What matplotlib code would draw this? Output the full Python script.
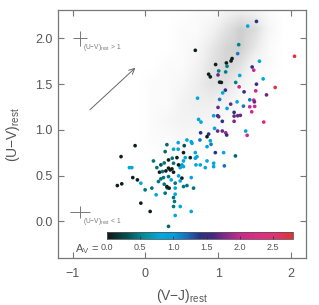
import numpy as np
import matplotlib
matplotlib.use('Agg')
import matplotlib.pyplot as plt
from matplotlib.colors import LinearSegmentedColormap, Normalize
from matplotlib.cm import ScalarMappable

plt.rcParams['font.family'] = ['Liberation Sans', 'DejaVu Sans']
plt.rcParams['mathtext.fontset'] = 'custom'
plt.rcParams['mathtext.rm'] = 'Liberation Sans'
plt.rcParams['mathtext.it'] = 'Liberation Sans:italic'

GRAY = '#555555'

# colour-coded galaxies: (V-J)rest, (U-V)rest, A_V
vj = [1.405, 1.525, 1.281, 1.267, 0.685, 1.190, 1.176, 1.112, 0.964, 1.121,
      1.566, 1.466, 1.488, 2.048, 1.006, 1.102, 0.868, 0.891, 0.997, 1.295,
      1.617, 1.019, 1.043, 1.240, 1.525, 1.287, 1.782, 1.098, 1.061, 1.355,
      1.515, 1.663, 0.716, 1.019, 1.433, 1.488, 1.497, 1.259, 1.346, 1.171,
      1.121, 0.997, 1.433, 1.501, 1.460, 1.218, 0.937, 0.992, 1.006, 1.218,
      1.267, 1.304, 1.056, 1.218, 1.625, 0.730, 0.763, 0.950, 0.992, 1.056,
      1.102, 1.116, 1.377, 1.397, 0.758, 0.868, 0.846, 0.891, 0.749, 0.570,
      0.629, 0.639, 0.450, 0.295, 0.533, 0.846, 0.901, 0.386, 0.450, -0.142,
      1.236, 0.960, 1.074, 1.084, 0.271, 0.523, 0.685,
      -0.335, -0.220, -0.187, 0.110, 0.157, 0.212, 0.258, 0.317, 0.193, 0.234,
      0.281, -0.174, -0.110, -0.063, -0.386, -0.325, 0.179, 0.212, 0.248, 0.258,
      0.299, 0.088, -0.004, 0.147, -0.063, 0.065, 0.317, 0.433, 0.368, 0.523,
      0.547, 0.616, 0.685, 0.708, 0.846, 0.937, 0.937, 0.753, 0.694, 0.822,
      0.501, 0.478, 0.523, 0.455, 0.386, 0.340, 0.364, 0.317, 0.386, 0.317,
      0.354, 0.455, 0.501, 0.478, 0.409, 0.523, 0.570, 0.629, 0.661, 0.295,
      0.326, 0.409, 0.409, 0.271, 0.386, 0.399, 0.386, 0.478, 0.629, 0.409]
uv = [2.135, 2.186, 1.932, 1.834, 1.870, 1.780, 1.754, 1.732, 1.715, 1.696,
      1.751, 1.688, 1.653, 1.805, 1.645, 1.634, 1.609, 1.580, 1.601, 1.595,
      1.558, 1.522, 1.519, 1.519, 1.500, 1.471, 1.464, 1.435, 1.405, 1.416,
      1.427, 1.383, 1.347, 1.333, 1.329, 1.326, 1.307, 1.307, 1.260, 1.282,
      1.235, 1.246, 1.253, 1.257, 1.198, 1.192, 1.155, 1.155, 1.144, 1.151,
      1.155, 1.159, 1.094, 1.094, 1.086, 1.115, 1.086, 1.017, 0.988, 0.988,
      0.969, 0.944, 0.988, 0.941, 0.969, 0.955, 0.926, 0.882, 0.890, 0.890,
      0.871, 0.854, 0.861, 0.839, 0.828, 0.817, 0.843, 0.789, 0.789, 0.828,
      0.716, 0.752, 0.752, 0.607, 0.763, 0.752, 0.752,
      0.708, 0.588, 0.588, 0.661, 0.588, 0.618, 0.639, 0.672, 0.538, 0.545,
      0.552, 0.479, 0.454, 0.418, 0.392, 0.411, 0.436, 0.465, 0.479, 0.407,
      0.367, 0.364, 0.345, 0.291, 0.200, 0.109, -0.054, 0.697, 0.691, 0.661,
      0.697, 0.697, 0.691, 0.708, 0.661, 0.636, 0.599, 0.618, 0.618, 0.588,
      0.618, 0.588, 0.599, 0.618, 0.636, 0.563, 0.574, 0.582, 0.538, 0.490,
      0.454, 0.498, 0.473, 0.443, 0.418, 0.381, 0.392, 0.479, 0.364, 0.381,
      0.364, 0.364, 0.298, 0.309, 0.261, 0.218, 0.163, 0.163, 0.109, 0.065]
av = [0.85, 1.40, 0.50, 1.15, 0.05, 0.05, 0.05, 0.05, 0.05, 0.50,
      0.85, 1.40, 2.05, 2.75, 0.50, 0.50, 0.05, 0.05, 1.70, 0.85,
      0.85, 0.05, 0.05, 0.50, 1.60, 2.05, 2.70, 1.40, 0.85, 1.45,
      2.05, 1.70, 0.85, 1.15, 1.15, 2.05, 1.70, 0.85, 1.15, 1.70,
      0.85, 1.70, 2.05, 2.05, 2.05, 1.40, 0.85, 1.40, 1.70, 1.70,
      1.70, 1.70, 1.40, 1.75, 2.20, 0.85, 0.85, 0.85, 1.70, 1.70,
      1.90, 1.40, 0.85, 2.05, 1.40, 1.40, 0.05, 0.85, 1.15, 0.85,
      0.85, 0.85, 0.85, 0.40, 0.30, 0.85, 1.15, 0.85, 0.85, 0.05,
      0.40, 1.40, 0.85, 1.20, 0.40, 0.05, 0.85,
      0.05, 0.85, 0.85, 0.45, 0.45, 0.30, 0.45, 0.05, 0.05, 0.45,
      0.05, 0.05, 0.05, 0.80, 0.05, 0.05, 0.45, 0.45, 0.45, 0.45,
      0.45, 0.45, 0.45, 0.85, 0.05, 0.05, 0.40, 0.05, 0.45, 0.85,
      0.85, 0.05, 0.85, 0.85, 0.85, 0.85, 0.85, 0.85, 0.85, 0.85,
      0.85, 0.85, 0.85, 0.05, 0.45, 0.05, 0.05, 0.05, 0.05, 0.45,
      0.85, 0.85, 0.05, 0.85, 0.45, 0.45, 0.45, 0.85, 0.45, 0.05,
      0.05, 0.85, 0.85, 0.45, 0.45, 0.45, 0.45, 0.85, 0.85, 0.85]

# background sample, read as a coarse density map (rows top to bottom)
cloud_x = [-0.1, 0.1, 0.3, 0.5, 0.7, 0.9, 1.1, 1.3, 1.5, 1.7, 1.9]
cloud_y = [2.3, 2.1, 1.9, 1.7, 1.5, 1.3, 1.1, 0.9, 0.7]
cloud = [[0, 0, 0, 0, 1, 1, 3, 4, 3, 1, 0],
         [0, 0, 0, 1, 1, 3, 6, 9, 7, 2, 0],
         [0, 0, 0, 1, 2, 5, 8, 9, 5, 1, 0],
         [0, 0, 1, 1, 3, 6, 8, 6, 2, 1, 0],
         [0, 1, 1, 2, 4, 6, 6, 3, 1, 0, 0],
         [0, 1, 1, 3, 4, 4, 3, 1, 0, 0, 0],
         [0, 1, 2, 3, 3, 2, 1, 0, 0, 0, 0],
         [0, 1, 1, 2, 1, 1, 0, 0, 0, 0, 0],
         [0, 0, 1, 1, 0, 0, 0, 0, 0, 0, 0]]

# A_V colour scale
av_nodes = [0.0, 0.3, 0.55, 0.8, 1.0, 1.2, 1.4, 1.6, 1.8, 2.0, 2.3, 2.55, 2.8]
node_colors = ['#141414', '#005050', '#008c9c', '#00a8dc', '#009ee0', '#1a6ebe',
               '#2a3282', '#462882', '#8c288c', '#c8288c', '#e12d82', '#e1326e',
               '#e13232']
cbar_ticks = [0.0, 0.5, 1.0, 1.5, 2.0, 2.5]

cmap = LinearSegmentedColormap.from_list(
    'av', list(zip(np.array(av_nodes) / av_nodes[-1], node_colors)))
norm = Normalize(0, av_nodes[-1])

fig = plt.figure(figsize=(3.19, 3.05), dpi=100)
ax = fig.add_axes([0.182, 0.154, 0.776, 0.813])

dx = cloud_x[1] - cloud_x[0]
dy = cloud_y[0] - cloud_y[1]
ax.imshow(np.array(cloud, float), origin='upper', cmap='Greys', vmin=0, vmax=30,
          extent=(cloud_x[0] - dx / 2, cloud_x[-1] + dx / 2,
                  cloud_y[-1] - dy / 2, cloud_y[0] + dy / 2),
          interpolation='bilinear', aspect='auto', zorder=0)

ax.scatter(vj, uv, c=av, cmap=cmap, norm=norm, s=7, linewidths=0, zorder=3)

# typical error bars
ax.errorbar(-0.9, 2.0, xerr=0.1, yerr=0.08, color='#777777', lw=0.7,
            capsize=0, zorder=2)
ax.text(-0.86, 1.90, '(U−V)$_{\\rm rest}$ > 1', fontsize=4.8, color='#777777',
        va='center')
ax.errorbar(-0.9, 0.1, xerr=0.14, yerr=0.065, color='#777777', lw=0.7,
            capsize=0, zorder=2)
ax.text(-0.86, -0.005, '(U−V)$_{\\rm rest}$ < 1', fontsize=4.8, color='#777777',
        va='center')

# reddening vector
ax.annotate('', xy=(-0.11, 1.70), xytext=(-0.79, 1.2),
            arrowprops=dict(arrowstyle='->', color='#666666', lw=0.7))

ax.set_xlim(-1.2, 2.2)
ax.set_ylim(-0.4, 2.31)
ax.set_xticks([-1, 0, 1, 2])
ax.set_xticklabels(['−1', '0', '1', '2'])
ax.set_yticks([0.0, 0.5, 1.0, 1.5, 2.0])
ax.set_yticklabels(['0.0', '0.5', '1.0', '1.5', '2.0'])
ax.tick_params(direction='in', top=True, right=True, length=4, width=0.8,
               color='#777777', labelcolor=GRAY, labelsize=9)
ax.tick_params(axis='x', pad=7)
ax.tick_params(axis='y', pad=4)
for s in ax.spines.values():
    s.set_color('#777777')
    s.set_linewidth(0.9)

ax.set_xlabel('(V−J)$_{\\rm rest}$', fontsize=10, color=GRAY)
ax.set_ylabel('(U−V)$_{\\rm rest}$', fontsize=10, color=GRAY)
ax.xaxis.set_label_coords(0.5, -0.115)
ax.yaxis.set_label_coords(-0.145, 0.5)

# colour bar drawn inside the panel
cax = ax.inset_axes([-0.532, -0.188, 2.562, 0.073], transform=ax.transData)
cb = fig.colorbar(ScalarMappable(norm=norm, cmap=cmap), cax=cax,
                  orientation='horizontal', ticks=cbar_ticks)
cb.outline.set_edgecolor('#555555')
cb.outline.set_linewidth(0.6)
cb.ax.tick_params(direction='in', length=2, width=0.6, color='#333333',
                  labelsize=6.5, labelcolor=GRAY, pad=3.5)
cb.ax.set_xticklabels([f'{t:.1f}' for t in cbar_ticks])
ax.text(-0.63, -0.305, 'A$_{\\rm V}$ =', fontsize=8, color=GRAY,
        ha='right', va='center')

fig.savefig('out.png', dpi=100)
